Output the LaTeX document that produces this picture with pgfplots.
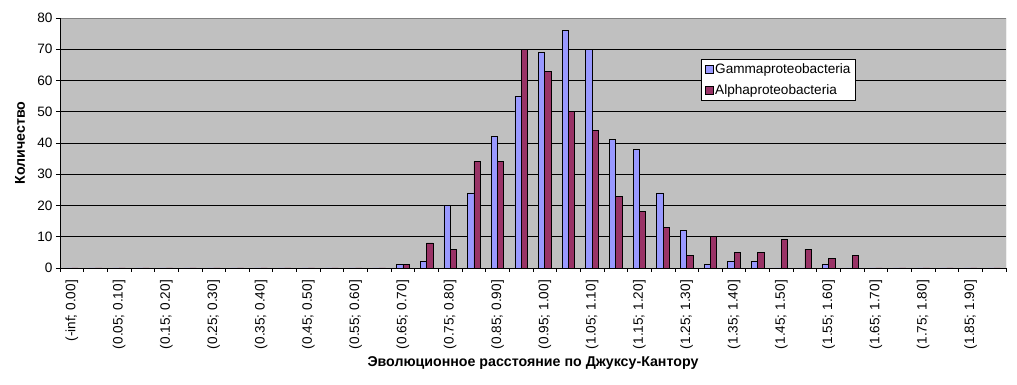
\documentclass[border=0pt]{standalone}
\usepackage{fontspec}
\setmainfont{Liberation Sans}
\usepackage{pgfplots}
\pgfplotsset{compat=1.18}
\definecolor{bg}{HTML}{C0C0C0}
\definecolor{gam}{HTML}{9999FF}
\definecolor{alp}{HTML}{993366}
\definecolor{frm}{HTML}{808080}
\newcommand\f{\fontsize{13.6pt}{16pt}\selectfont}
\newcommand\fb{\fontsize{14.2pt}{16pt}\selectfont\bfseries}
\begin{document}
\begin{tikzpicture}
\useasboundingbox (-60pt,-117pt) rectangle (957pt,268pt);
\begin{axis}[
  at={(0,0)}, anchor=south west,
  scale only axis, width=946pt, height=250pt,
  xmin=-0.5, xmax=39.5, ymin=0, ymax=80,
  ybar=0pt, bar width=6.3pt,
  axis background/.style={fill=bg},
  axis line style={draw=none},
  ytick={0,10,...,80},
  ymajorgrids, grid style={black, line width=0.75pt},
  xtick={-0.5,0.5,...,39.5}, xticklabels={},
  extra x ticks={0,2,...,38},
  extra x tick labels={{(-inf; 0.00]},{(0.05; 0.10]},{(0.15; 0.20]},{(0.25; 0.30]},{(0.35; 0.40]},{(0.45; 0.50]},{(0.55; 0.60]},{(0.65; 0.70]},{(0.75; 0.80]},{(0.85; 0.90]},{(0.95; 1.00]},{(1.05; 1.10]},{(1.15; 1.20]},{(1.25; 1.30]},{(1.35; 1.40]},{(1.45; 1.50]},{(1.55; 1.60]},{(1.65; 1.70]},{(1.75; 1.80]},{(1.85; 1.90]}},
  extra x tick style={major tick length=0pt, xticklabel style={yshift=-12pt, rotate=90, anchor=east, font=\f, inner sep=0pt}},
  tick align=outside, major tick length=4pt, tick pos=left,
  tick style={black, line width=0.75pt},
  yticklabel style={font=\f, /pgf/number format/assume math mode=true},
  ylabel={Количество},
  ylabel style={at={(axis description cs:-0.0423,0.5)}, anchor=center, font=\fb},
  xlabel={Эволюционное расстояние по Джуксу-Кантору},
  xlabel style={at={(axis description cs:0.5,-0.38)}, anchor=center, font=\fb},
  legend style={at={(0.678,0.835)}, anchor=north west, draw=black, fill=white, font=\f,
    inner xsep=3pt, inner ysep=2.5pt, row sep=5pt},
  legend cell align=left,
  legend image code/.code={\draw[#1, draw=black, line width=0.6pt] (0pt,-4pt) rectangle (8pt,4pt);},
]
\addplot[fill=gam, draw=black, line width=0.75pt] coordinates {
(0,0) (1,0) (2,0) (3,0) (4,0) (5,0) (6,0) (7,0) (8,0) (9,0)
(10,0) (11,0) (12,0) (13,0) (14,1) (15,2) (16,20) (17,24) (18,42) (19,55)
(20,69) (21,76) (22,70) (23,41) (24,38) (25,24) (26,12) (27,1) (28,2) (29,2)
(30,0) (31,0) (32,1) (33,0) (34,0) (35,0) (36,0) (37,0) (38,0) (39,0)};
\addplot[fill=alp, draw=black, line width=0.75pt] coordinates {
(0,0) (1,0) (2,0) (3,0) (4,0) (5,0) (6,0) (7,0) (8,0) (9,0)
(10,0) (11,0) (12,0) (13,0) (14,1) (15,8) (16,6) (17,34) (18,34) (19,70)
(20,63) (21,50) (22,44) (23,23) (24,18) (25,13) (26,4) (27,10) (28,5) (29,5)
(30,9) (31,6) (32,3) (33,4) (34,0) (35,0) (36,0) (37,0) (38,0) (39,0)};
\legend{Gammaproteobacteria, Alphaproteobacteria}
\draw[frm, line width=0.75pt] (rel axis cs:0,1) -- (rel axis cs:1,1) -- (rel axis cs:1,0);
\draw[black, line width=0.75pt] (rel axis cs:0,1) -- (rel axis cs:0,0) -- (rel axis cs:1,0);
\end{axis}
\end{tikzpicture}
\end{document}
